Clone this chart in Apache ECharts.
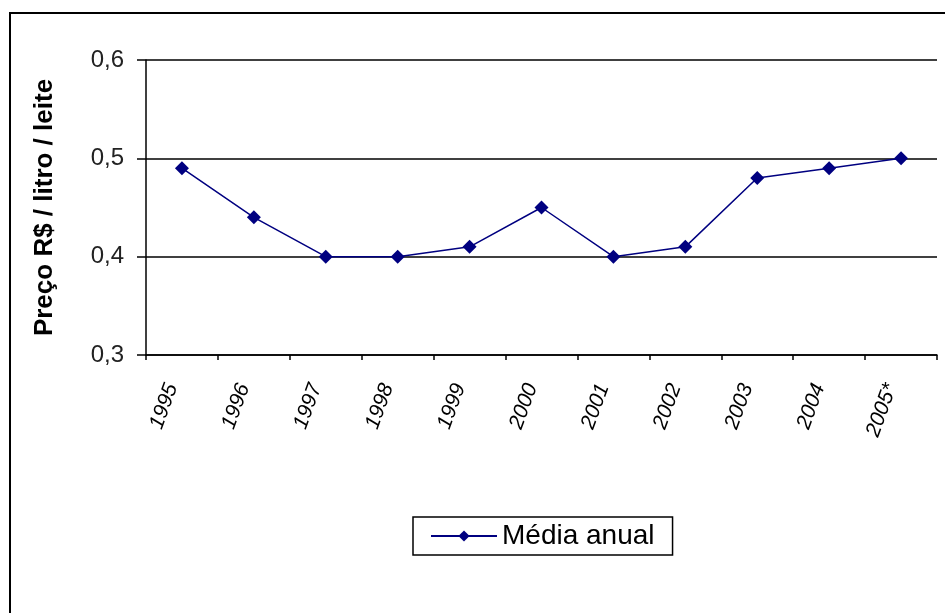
<!DOCTYPE html>
<html>
<head>
<meta charset="utf-8">
<script src="https://cdn.jsdelivr.net/npm/echarts@6/dist/echarts.min.js"></script>
<style>
  html, body { margin: 0; padding: 0; background: #fff; }
  #chart { width: 945px; height: 613px; }
</style>
</head>
<body>
<div id="chart"></div>
<script>
// dados
const years = ['1995', '1996', '1997', '1998', '1999', '2000', '2001', '2002', '2003', '2004', '2005*']
const mediaAnual = [0.49, 0.44, 0.40, 0.40, 0.41, 0.45, 0.40, 0.41, 0.48, 0.49, 0.50]
const seriesName = 'Média anual'

const navy = '#000080'
const font = 'Liberation Sans, Arial, sans-serif'

const chart = echarts.init(document.getElementById('chart'))
chart.setOption({
  animation: false,
  backgroundColor: '#fff',
  graphic: [{
    type: 'rect',
    shape: { x: 10, y: 13, width: 1000, height: 700 },
    style: { fill: 'none', stroke: '#000', lineWidth: 2 },
    silent: true
  }],
  grid: {
    left: 146,
    right: 8,
    top: 60,
    bottom: 258,
    outerBoundsMode: 'none',
    containLabel: false
  },
  legend: {
    data: [seriesName],
    left: 413,
    top: 517,
    padding: [5, 18, 5, 17],
    borderColor: '#000',
    borderWidth: 1.5,
    borderRadius: 0,
    itemWidth: 66,
    itemHeight: 14,
    itemGap: 8,
    textStyle: { color: '#000', fontSize: 28, fontFamily: font }
  },
  xAxis: {
    type: 'category',
    data: years,
    boundaryGap: true,
    axisLine: { lineStyle: { color: '#000', width: 1.5 } },
    axisTick: { show: true, length: 5, lineStyle: { color: '#000', width: 1.5 } },
    axisLabel: {
      rotate: 70,
      margin: 33,
      verticalAlign: 'bottom',
      color: '#000',
      fontSize: 21,
      fontStyle: 'italic',
      fontFamily: font
    }
  },
  yAxis: {
    type: 'value',
    min: 0.3,
    max: 0.6,
    interval: 0.1,
    name: 'Preço R$ / litro / leite',
    nameLocation: 'middle',
    nameGap: 88,
    nameTextStyle: { color: '#000', fontSize: 26, fontWeight: 'bold', fontFamily: font },
    axisLine: { show: true, lineStyle: { color: '#000', width: 1.5 } },
    axisTick: { show: true, length: 9, inside: false, lineStyle: { color: '#000', width: 1.5 } },
    axisLabel: {
      margin: 22,
      color: '#222',
      fontSize: 24,
      fontFamily: font,
      formatter: v => v.toFixed(1).replace('.', ',')
    },
    splitLine: { show: true, lineStyle: { color: '#000', width: 1.5 } }
  },
  series: [{
    name: seriesName,
    type: 'line',
    data: mediaAnual,
    symbol: 'diamond',
    symbolSize: 14,
    itemStyle: { color: navy },
    lineStyle: { color: navy, width: 1.5 }
  }]
})
</script>
</body>
</html>
